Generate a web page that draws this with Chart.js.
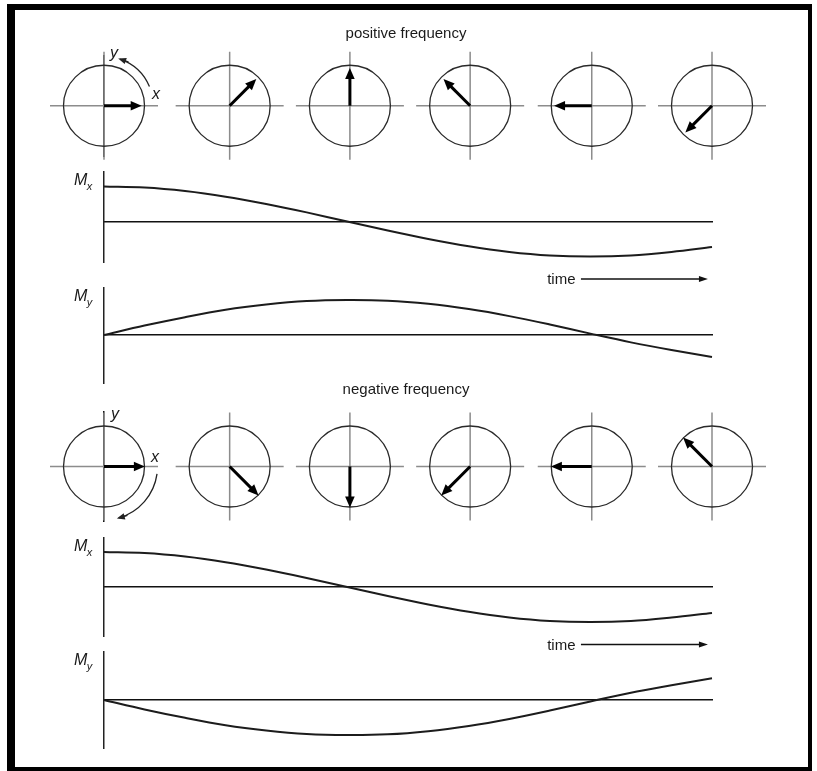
<!DOCTYPE html>
<html>
<head>
<meta charset="utf-8">
<script src="https://cdn.jsdelivr.net/npm/chart.js@4.4.1/dist/chart.umd.min.js"></script>
<style>
html,body{margin:0;padding:0;background:#fff;}
#wrap{position:relative;width:817px;height:771px;overflow:hidden;background:#fff;}
#wrap canvas{position:absolute;left:0;top:0;}
#frame{position:absolute;left:7px;top:4px;width:805px;height:767px;box-sizing:border-box;
  border-left:8px solid #000;border-top:6px solid #000;border-right:4px solid #000;border-bottom:4px solid #000;pointer-events:none;}
</style>
</head>
<body>
<div id="wrap">
  <canvas id="phPos" width="817" height="771"></canvas>
  <canvas id="mxPos" width="817" height="771"></canvas>
  <canvas id="myPos" width="817" height="771"></canvas>
  <canvas id="phNeg" width="817" height="771"></canvas>
  <canvas id="mxNeg" width="817" height="771"></canvas>
  <canvas id="myNeg" width="817" height="771"></canvas>
  <div id="frame"></div>
</div>
<script>
// ---- data ----
const timeDeg   = [0, 15, 30, 45, 60, 75, 90, 105, 120, 135, 150, 165, 180, 195, 210, 225];
const mxPos     = [1.00, 0.97, 0.87, 0.71, 0.50, 0.26, 0.00, -0.26, -0.50, -0.71, -0.87, -0.97, -1.00, -0.97, -0.87, -0.73];
const myPos     = [0.00, 0.27, 0.51, 0.72, 0.87, 0.97, 1.00, 0.98, 0.89, 0.74, 0.54, 0.30, 0.04, -0.21, -0.43, -0.63];
const mxNeg     = [1.00, 0.97, 0.87, 0.71, 0.50, 0.26, 0.00, -0.26, -0.50, -0.71, -0.87, -0.97, -1.00, -0.97, -0.87, -0.74];
const myNeg     = [0.00, -0.27, -0.51, -0.72, -0.87, -0.97, -1.00, -0.98, -0.89, -0.74, -0.54, -0.30, -0.04, 0.21, 0.42, 0.62];
const phasorTimes = [0, 46.5, 91, 135.5, 180.5, 225];
const posAngles   = [0, 45, 90, 135, 180, 225];
const negAngles   = [0, -45, -90, -135, -180, -225];
const titles      = ['positive frequency', 'negative frequency'];
const axisNames   = ['x', 'y'];
const timeLabel   = 'time';

const W = 817, H = 771;
const FONT = '"Liberation Sans", Arial, Helvetica, sans-serif';
Chart.defaults.font.family = FONT;

function arrow(ctx, x0, y0, x1, y1, lw, hl, hw, color) {
  const dx = x1 - x0, dy = y1 - y0, L = Math.hypot(dx, dy);
  const ux = dx / L, uy = dy / L;
  const bx = x1 - ux * hl, by = y1 - uy * hl;
  ctx.strokeStyle = color; ctx.fillStyle = color; ctx.lineWidth = lw; ctx.lineCap = 'butt';
  ctx.beginPath(); ctx.moveTo(x0, y0); ctx.lineTo(bx + ux * 1, by + uy * 1); ctx.stroke();
  ctx.beginPath(); ctx.moveTo(x1, y1);
  ctx.lineTo(bx - uy * hw, by + ux * hw);
  ctx.lineTo(bx + uy * hw, by - ux * hw);
  ctx.closePath(); ctx.fill();
}

const decor = {
  id: 'decor',
  afterDraw(chart, args, o) {
    const ctx = chart.ctx, xs = chart.scales.x, ys = chart.scales.y, ca = chart.chartArea;
    ctx.save();
    if (o.kind === 'phasor') {
      const cy = ys.getPixelForValue(0), r = cy - ys.getPixelForValue(1);
      ctx.fillStyle = '#1a1a1a';
      ctx.font = '15px ' + FONT; ctx.textAlign = 'center'; ctx.textBaseline = 'alphabetic';
      ctx.fillText(o.title, (ca.left + ca.right) / 2 - 2, ca.top - 18);
      o.angles.forEach((a, i) => {
        const cx = xs.getPixelForValue(phasorTimes[i]);
        const t = a * Math.PI / 180;
        arrow(ctx, cx, cy, cx + r * Math.cos(t), cy - r * Math.sin(t), 3, 11, 4.8, '#000');
      });
      const cx0 = xs.getPixelForValue(phasorTimes[0]);
      const R = r * 1.31;
      const a0 = o.spin[0] * Math.PI / 180, a1 = o.spin[1] * Math.PI / 180;
      ctx.strokeStyle = '#222'; ctx.lineWidth = 1.3;
      ctx.beginPath();
      ctx.arc(cx0, cy, R, -a0, -a1, a1 > a0);
      ctx.stroke();
      const ex = cx0 + R * Math.cos(a1), ey = cy - R * Math.sin(a1);
      const sgn = a1 > a0 ? 1 : -1;
      const tx = -Math.sin(a1) * sgn, ty = -Math.cos(a1) * sgn;
      arrow(ctx, ex - tx * 9, ey - ty * 9, ex + tx * 2, ey + ty * 2, 1.3, 8, 3.2, '#222');
      ctx.fillStyle = '#1a1a1a'; ctx.font = 'italic 16px ' + FONT; ctx.textAlign = 'left';
      ctx.fillText(axisNames[1], cx0 + o.yLab[0], cy + o.yLab[1]);
      ctx.fillText(axisNames[0], cx0 + o.xLab[0], cy + o.xLab[1]);
    } else {
      ctx.fillStyle = '#1a1a1a'; ctx.textAlign = 'left'; ctx.textBaseline = 'alphabetic';
      ctx.font = 'italic 16px ' + FONT;
      const bx = ca.left - 30, by = ca.top + 13;
      ctx.fillText('M', bx, by);
      const mw = ctx.measureText('M').width;
      ctx.font = 'italic 11px ' + FONT;
      ctx.fillText(o.sub, bx + mw - 0.5, by + 4.5);
      if (o.time) {
        const zy = ys.getPixelForValue(0) + 57.5;
        ctx.font = '15px ' + FONT; ctx.textAlign = 'right';
        ctx.fillText(timeLabel, xs.getPixelForValue(174.5), zy + 5);
        arrow(ctx, xs.getPixelForValue(176.5), zy, xs.getPixelForValue(223.5), zy, 1.3, 9, 3, '#111');
      }
    }
    ctx.restore();
  }
};

function phasorChart(id, angles, title, top, bottom, spin, yLab, xLab) {
  const pts = phasorTimes.map(t => ({x: t, y: 0}));
  return new Chart(document.getElementById(id), {
    type: 'scatter',
    data: { datasets: [
      { data: pts, pointStyle: 'circle', pointRadius: 40.5, pointHoverRadius: 40.5,
        backgroundColor: 'rgba(0,0,0,0)', borderColor: '#2a2a2a', borderWidth: 1.3, clip: false, order: 1 },
      { data: pts, pointStyle: 'cross', pointRadius: 54, pointHoverRadius: 54,
        borderColor: '#8c8c8c', borderWidth: 1.5, clip: false, order: 2 }
    ]},
    options: {
      responsive: false, animation: false, events: [],
      layout: { padding: { left: 104, right: 105, top: top, bottom: H - bottom } },
      plugins: { legend: { display: false }, tooltip: { enabled: false },
        decor: { kind: 'phasor', angles: angles, title: title, spin: spin, yLab: yLab, xLab: xLab } },
      scales: {
        x: { type: 'linear', min: 0, max: 225, display: false },
        y: { type: 'linear', min: -54 / 40.5, max: 54 / 40.5, z: 1,
             ticks: { display: false }, grid: { display: false, drawTicks: false },
             border: { display: true, color: '#111', width: 1.5 } }
      }
    },
    plugins: [decor]
  });
}

function waveChart(id, values, top, bottom, ymin, ymax, sub, time) {
  return new Chart(document.getElementById(id), {
    type: 'line',
    data: { datasets: [{
      data: timeDeg.map((t, i) => ({x: t, y: values[i]})),
      borderColor: '#1c1c1c', borderWidth: 2, pointRadius: 0, tension: 0.35,
      clip: false, fill: false
    }]},
    options: {
      responsive: false, animation: false, events: [],
      layout: { padding: { left: 104, right: 105, top: top, bottom: H - bottom } },
      plugins: { legend: { display: false }, tooltip: { enabled: false },
        decor: { kind: 'wave', sub: sub, time: time } },
      scales: {
        x: { type: 'linear', min: 0, max: 225, position: { y: 0 },
             ticks: { display: false }, grid: { display: false, drawTicks: false },
             border: { display: true, color: '#111', width: 1.5 } },
        y: { type: 'linear', min: ymin, max: ymax,
             ticks: { display: false }, grid: { display: false, drawTicks: false },
             border: { display: true, color: '#222', width: 1.5 } }
      }
    },
    plugins: [decor]
  });
}

phasorChart('phPos', posAngles, titles[0], 48, 156, [23, 71], [6, -48], [48, -7]);
waveChart('mxPos', mxPos, 172, 262, -1.157, 1.414, axisNames[0], true);
waveChart('myPos', myPos, 288, 383, -1.371, 1.343, axisNames[1], false);
phasorChart('phNeg', negAngles, titles[1], 412, 521, [-8, -74], [7, -48], [47, -5]);
waveChart('mxNeg', mxNeg, 538, 636, -1.4, 1.4, axisNames[0], true);
waveChart('myNeg', myNeg, 652, 748, -1.371, 1.371, axisNames[1], false);
</script>
</body>
</html>
